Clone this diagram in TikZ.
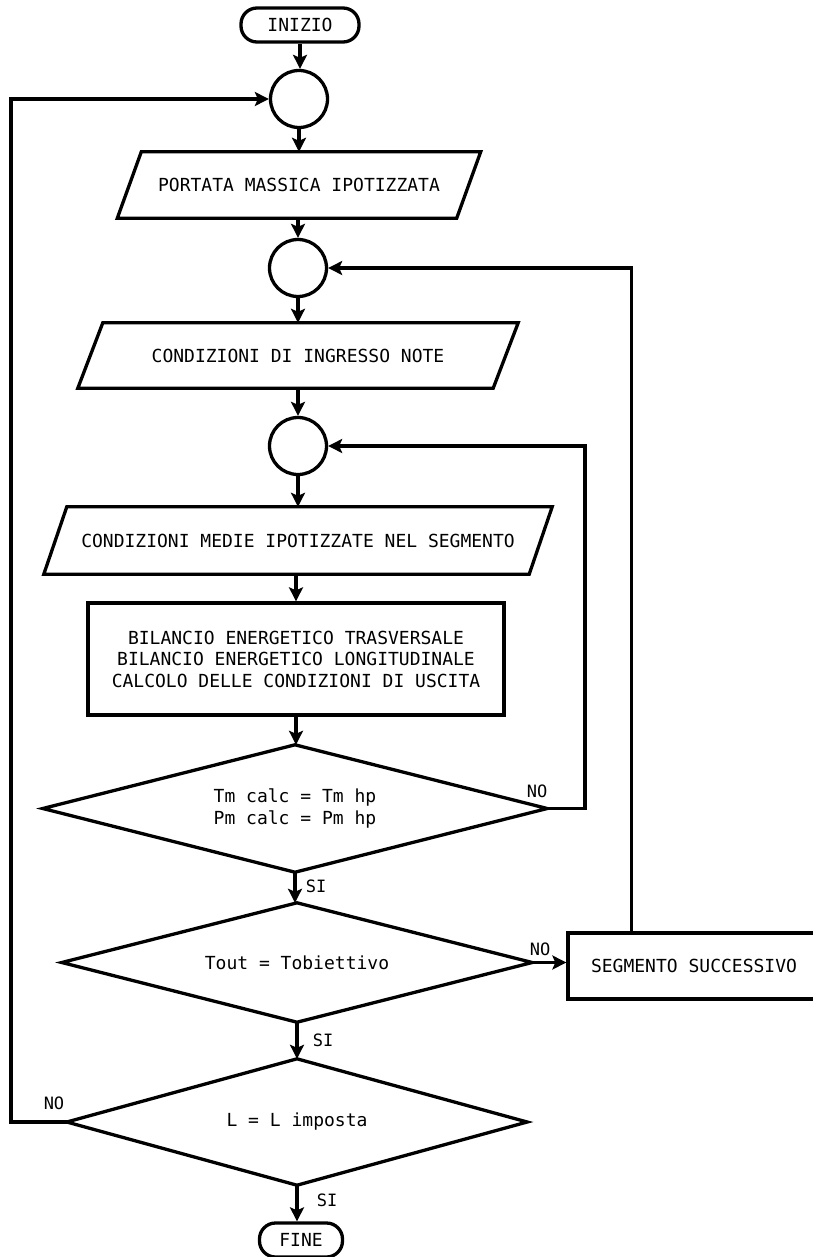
\documentclass[tikz,border=0pt]{standalone}
\usepackage{fontspec}
\usetikzlibrary{arrows.meta,calc}
\newfontfamily\flowmono{DejaVu Sans Mono}
\begin{document}
\begin{tikzpicture}[x=1pt,y=-1pt,
  every node/.style={font=\flowmono\fontsize{18}{21.5}\selectfont, inner sep=0pt},
  base/.style={draw, line width=3.3pt},
  terminal/.style={base, rectangle, rounded corners=16pt, minimum height=34pt},
  junction/.style={base, circle, minimum size=57pt},
  frame/.style={rectangle, align=center},
  procbox/.style={base, rectangle, align=center},
  outline/.style={line width=3.3pt, line join=miter},
  lbl/.style={font=\flowmono\fontsize{17}{19}\selectfont},
  arr/.style={line width=3.3pt, line join=miter, -{Stealth[length=14pt,width=14pt,inset=3pt]}},
]
\fill[white] (0,0) rectangle (812,1257);
\useasboundingbox (0,0) rectangle (812,1257);

% main column
\node[terminal, minimum width=118pt] (start) at (300,25) {INIZIO};
\node[junction] (j1) at (299,99) {};
\node[frame, minimum width=339pt, minimum height=66pt] (in1) at (299,185) {PORTATA MASSICA IPOTIZZATA};
\node[junction] (j2) at (298,268) {};
\node[frame, minimum width=415pt, minimum height=65pt] (in2) at (298,355.5) {CONDIZIONI DI INGRESSO NOTE};
\node[junction] (j3) at (298,446) {};
\node[frame, minimum width=485pt, minimum height=67pt] (in3) at (298,540.5) {CONDIZIONI MEDIE IPOTIZZATE NEL SEGMENTO};
\node[procbox, minimum width=416pt, minimum height=112pt] (calc) at (296,659)
  {BILANCIO ENERGETICO TRASVERSALE\\BILANCIO ENERGETICO LONGITUDINALE\\CALCOLO DELLE CONDIZIONI DI USCITA};
\node[frame, minimum width=504pt, minimum height=127pt] (t1) at (295,808.5)
  {Tm calc = Tm hp\\Pm calc = Pm hp};
\node[frame, minimum width=470pt, minimum height=119pt] (t2) at (297,962.5) {Tout = Tobiettivo};
\node[procbox, minimum width=252pt, minimum height=66pt] (next) at (694,966) {SEGMENTO SUCCESSIVO};
\node[frame, minimum width=460pt, minimum height=126pt] (t3) at (297,1122) {L = L imposta};
\node[terminal, minimum width=83pt] (stop) at (301,1240) {FINE};

% parallelogram outlines (input / output blocks)
\foreach \n/\s in {in1/12, in2/12.5, in3/11.5}{
  \draw[outline] ([xshift=\s pt]\n.north west) -- ([xshift=\s pt]\n.north east)
    -- ([xshift=-\s pt]\n.south east) -- ([xshift=-\s pt]\n.south west) -- cycle;
}
% decision outlines
\foreach \n in {t1,t2,t3}{
  \draw[outline] (\n.north) -- (\n.east) -- (\n.south) -- (\n.west) -- cycle;
}

% vertical flow
\draw[arr] (start.south) -- (start.south |- j1.north);
\draw[arr] (j1.south) -- (j1.south |- in1.north);
\draw[arr] (in1.south -| j2) -- (j2.north);
\draw[arr] (j2.south) -- (j2.south |- in2.north);
\draw[arr] (in2.south -| j3) -- (j3.north);
\draw[arr] (j3.south) -- (j3.south |- in3.north);
\draw[arr] (in3.south -| calc) -- (calc.north);
\draw[arr] (calc.south) -- (calc.south |- t1.north);
\draw[arr] (t1.south) -- (t1.south |- t2.north);
\draw[arr] (t2.south) -- (t2.south |- t3.north);
\draw[arr] (t3.south) -- (t3.south |- stop.north);

% loop back paths
\coordinate (lx) at (11,0);
\draw[arr] (t3.west) -- (t3.west -| lx) |- (j1.west);
\coordinate (rx1) at (585,0);
\draw[arr] (t1.east) -- (t1.east -| rx1) |- (j3.east);
\draw[arr] (t2.east) -- (t2.east -| next.west);
\coordinate (ntop) at ([xshift=65pt]next.north west);
\draw[arr] (ntop) |- (j2.east);

% branch labels
\node[lbl] (n1) at (537,791) {NO};
\node[lbl] (n2) at (540,949) {NO};
\node[lbl] (n3) at (54,1103) {NO};
\node[lbl] (s1) at (316,886) {SI};
\node[lbl] (s2) at (323,1040) {SI};
\node[lbl] (s3) at (327,1200) {SI};
\end{tikzpicture}
\end{document}
